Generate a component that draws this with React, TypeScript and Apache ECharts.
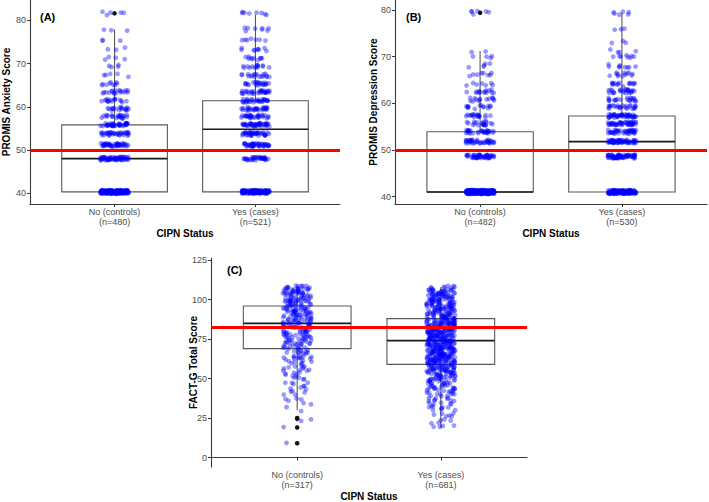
import React, { useEffect, useRef } from "react";
import * as echarts from "echarts";

// ---------- data ----------
const groupNames = ["No (controls)", "Yes (cases)"];
const anxietyN = [480, 521];
const depressionN = [482, 530];
const factN = [317, 681];

// PROMIS Anxiety: discrete T-score levels and counts per group (read from the jitter clouds)
const anxietyLevels = [40.3, 48.0, 51.2, 53.7, 55.8, 57.7, 59.5, 61.4, 63.4, 65.3, 67.3, 69.3, 71.2, 73.3, 75.4, 77.9, 81.6];
const anxietyNoCounts = [190, 60, 45, 35, 40, 22, 18, 16, 18, 9, 5, 4, 4, 3, 3, 3, 5];
const anxietyYesCounts = [140, 35, 45, 40, 45, 30, 30, 30, 30, 22, 18, 14, 10, 9, 7, 8, 8];
// [low whisker, Q1, median, Q3, high whisker]
const anxietyNoBox = [40.3, 40.3, 48.0, 55.8, 77.9];
const anxietyYesBox = [40.3, 40.3, 54.8, 61.4, 81.3];
const anxietyNoOutliers = [81.6];
const anxietyYesOutliers: number[] = [];
const anxietyTicks = [40, 50, 60, 70, 80];
const anxietyRef = 50;

// PROMIS Depression
const depressionLevels = [41.0, 48.6, 51.8, 53.9, 55.7, 57.3, 59.2, 60.8, 62.6, 64.0, 66.2, 68.1, 70.0, 71.2, 73.3, 75.7, 79.4];
const depressionNoCounts = [250, 50, 40, 30, 20, 18, 14, 14, 14, 7, 8, 5, 4, 2, 0, 0, 6];
const depressionYesCounts = [140, 70, 60, 40, 45, 45, 25, 20, 25, 15, 12, 9, 8, 4, 3, 3, 6];
const depressionNoBox = [41.0, 41.0, 41.0, 53.9, 71.2];
const depressionYesBox = [41.0, 41.0, 51.8, 57.3, 79.4];
const depressionNoOutliers = [79.4];
const depressionYesOutliers: number[] = [];
const depressionTicks = [40, 50, 60, 70, 80];
const depressionRef = 50;

// FACT-G Total
const factLevels = [9, 19, 20, 22, 24, 26, 28, 30, 32, 34, 36, 38, 40, 42, 44, 46, 48, 50, 52, 54, 56, 58, 60, 62, 64, 66, 68, 70, 72, 74, 76, 78, 80, 82, 84, 86, 88, 90, 92, 94, 96, 98, 100, 102, 104, 106, 108];
const factNoCounts = [1, 1, 0, 0, 2, 0, 0, 1, 1, 2, 2, 2, 2, 3, 3, 3, 3, 4, 4, 4, 5, 5, 6, 6, 7, 7, 6, 9, 9, 10, 10, 10, 11, 10, 10, 13, 14, 13, 13, 13, 13, 11, 13, 14, 15, 15, 11];
const factYesCounts = [0, 1, 3, 2, 3, 3, 3, 4, 5, 5, 5, 6, 7, 8, 9, 10, 11, 12, 14, 16, 18, 20, 22, 23, 24, 25, 25, 25, 25, 24, 25, 25, 25, 24, 24, 24, 17, 17, 17, 17, 17, 17, 17, 17, 17, 15, 8];
const factNoBox = [30, 69, 85, 96, 108];
const factYesBox = [19, 59, 74, 88, 108];
const factNoOutliers = [25, 24.5, 19, 9];
const factYesOutliers: number[] = [];
const factTicks = [0, 25, 50, 75, 100, 125];
const factRef = 82.5;

// ---------- helpers ----------
const FONT = '"Liberation Sans", Arial, Helvetica, sans-serif';

// deterministic scatter offset (stands in for ggplot's geom_jitter), in [0,1)
function hash01(k: number, s: number) {
  const x = Math.sin(k * 127.1 + s * 311.7) * 43758.5453;
  return x - Math.floor(x);
}

// expand a frequency table into jittered points (geom_jitter, width 0.1)
function jittered(levels: number[], counts: number[], center: number, yJit: number, seed: number) {
  const pts: number[][] = [];
  let k = 0;
  levels.forEach((lv, i) => {
    for (let j = 0; j < counts[i]; j++) {
      k++;
      const u = hash01(k, seed);
      const v = hash01(k + 7919, seed + 3.3);
      pts.push([center + (u * 2 - 1) * 0.1, lv + (v * 2 - 1) * yJit]);
    }
  });
  return pts;
}

function boxRender(params: any, api: any) {
  const x = api.value(0);
  const lo = api.coord([x, api.value(1)]);
  const q1 = api.coord([x, api.value(2)]);
  const md = api.coord([x, api.value(3)]);
  const q3 = api.coord([x, api.value(4)]);
  const hi = api.coord([x, api.value(5)]);
  const hw = api.size([0.75, 0])[0] / 2;
  const cx = q1[0];
  const stroke = "#5a5a5a";
  return {
    type: "group",
    children: [
      { type: "line", shape: { x1: cx, y1: hi[1], x2: cx, y2: q3[1] }, style: { stroke, lineWidth: 1.1 } },
      { type: "line", shape: { x1: cx, y1: q1[1], x2: cx, y2: lo[1] }, style: { stroke, lineWidth: 1.1 } },
      { type: "rect", shape: { x: cx - hw, y: q3[1], width: hw * 2, height: q1[1] - q3[1] }, style: { fill: "#ffffff", stroke, lineWidth: 1.1 } },
      { type: "line", shape: { x1: cx - hw, y1: md[1], x2: cx + hw, y2: md[1] }, style: { stroke: "#1a1a1a", lineWidth: 1.7 } },
    ],
  };
}

type Panel = {
  grid: any;
  xMin: number;
  xMax: number;
  yMin: number;
  yMax: number;
  ticks: number[];
  yName: string;
  yNameGap: number;
  n: number[];
  boxes: number[][];
  points: number[][];
  outliers: number[][];
  ref: number;
};

export default function App() {
  const ref = useRef<HTMLDivElement>(null);

  useEffect(() => {
    if (!ref.current) return;
    const chart = echarts.init(ref.current, undefined, { renderer: "svg" });

    const panels: Panel[] = [
      {
        grid: { left: 29, top: 0, width: 311, height: 204 },
        xMin: 0.4, xMax: 2.6, yMin: 37.5, yMax: 84.7, ticks: anxietyTicks,
        yName: "PROMIS Anxiety Score", yNameGap: 19, n: anxietyN,
        boxes: [[1, ...anxietyNoBox], [2, ...anxietyYesBox]],
        points: [...jittered(anxietyLevels, anxietyNoCounts, 1, 0.4, 0.11), ...jittered(anxietyLevels, anxietyYesCounts, 2, 0.4, 0.53)],
        outliers: [...anxietyNoOutliers.map((v) => [1, v]), ...anxietyYesOutliers.map((v) => [2, v])],
        ref: anxietyRef,
      },
      {
        grid: { left: 395, top: 0, width: 312, height: 204 },
        xMin: 0.4, xMax: 2.6, yMin: 38.43, yMax: 82.14, ticks: depressionTicks,
        yName: "PROMIS Depression Score", yNameGap: 17, n: depressionN,
        boxes: [[1, ...depressionNoBox], [2, ...depressionYesBox]],
        points: [...jittered(depressionLevels, depressionNoCounts, 1, 0.4, 0.27), ...jittered(depressionLevels, depressionYesCounts, 2, 0.4, 0.71)],
        outliers: [...depressionNoOutliers.map((v) => [1, v]), ...depressionYesOutliers.map((v) => [2, v])],
        ref: depressionRef,
      },
      {
        grid: { left: 211, top: 258, width: 316, height: 209 },
        xMin: 0.4, xMax: 2.6, yMin: -6, yMax: 126.4, ticks: factTicks,
        yName: "FACT-G Total Score", yNameGap: 13, n: factN,
        boxes: [[1, ...factNoBox], [2, ...factYesBox]],
        points: [...jittered(factLevels, factNoCounts, 1, 1.0, 0.19), ...jittered(factLevels, factYesCounts, 2, 1.0, 0.83)],
        outliers: [...factNoOutliers.map((v) => [1, v]), ...factYesOutliers.map((v) => [2, v])],
        ref: factRef,
      },
    ];

    const axisLine = { show: true, lineStyle: { color: "#3a3a3a", width: 1.1 } };
    const axisTick = { show: true, length: 3, lineStyle: { color: "#3a3a3a", width: 1 } };

    const option: any = {
      animation: false,
      backgroundColor: "#ffffff",
      textStyle: { fontFamily: FONT },
      title: [
        { text: "(A)", left: 40, top: 11, padding: 0, textStyle: { fontSize: 11, fontWeight: "bold", color: "#000", fontFamily: FONT } },
        { text: "(B)", left: 406, top: 11, padding: 0, textStyle: { fontSize: 11, fontWeight: "bold", color: "#000", fontFamily: FONT } },
        { text: "(C)", left: 227, top: 264, padding: 0, textStyle: { fontSize: 11, fontWeight: "bold", color: "#000", fontFamily: FONT } },
      ],
      grid: panels.map((p) => ({ ...p.grid, containLabel: false })),
      xAxis: panels.map((p, i) => ({
        type: "value",
        gridIndex: i,
        min: p.xMin,
        max: p.xMax,
        name: "CIPN Status",
        nameLocation: "middle",
        nameGap: 24,
        nameMoveOverlap: false,
        nameTextStyle: { fontSize: 10, fontWeight: "bold", color: "#000", fontFamily: FONT },
        axisLine,
        axisTick: { ...axisTick, customValues: [1, 2] },
        splitLine: { show: false },
        axisLabel: {
          customValues: [1, 2],
          margin: 3,
          fontSize: 9,
          lineHeight: 10,
          color: "#4d4d4d",
          fontFamily: FONT,
          formatter: (v: number) => {
            const k = Math.round(v) - 1;
            return `${groupNames[k]}\n(n=${p.n[k]})`;
          },
        },
      })),
      yAxis: panels.map((p, i) => ({
        type: "value",
        gridIndex: i,
        min: p.yMin,
        max: p.yMax,
        name: p.yName,
        nameLocation: "middle",
        nameGap: p.yNameGap,
        nameMoveOverlap: false,
        nameTextStyle: { fontSize: 10, fontWeight: "bold", color: "#000", fontFamily: FONT },
        axisLine,
        axisTick: { ...axisTick, customValues: p.ticks },
        splitLine: { show: false },
        axisLabel: { customValues: p.ticks, margin: 4, fontSize: 9, color: "#4d4d4d", fontFamily: FONT },
      })),
      series: panels.flatMap((p, i) => [
        {
          type: "custom",
          xAxisIndex: i,
          yAxisIndex: i,
          renderItem: boxRender,
          encode: { x: 0, y: [1, 2, 3, 4, 5] },
          data: p.boxes,
          z: 1,
          silent: true,
        },
        {
          type: "scatter",
          xAxisIndex: i,
          yAxisIndex: i,
          data: p.outliers,
          symbol: "circle",
          symbolSize: 4.5,
          itemStyle: { color: "#111111", opacity: 1 },
          z: 2,
          silent: true,
        },
        {
          type: "scatter",
          xAxisIndex: i,
          yAxisIndex: i,
          data: p.points,
          symbol: "circle",
          symbolSize: 4.8,
          progressive: 0,
          itemStyle: { color: "rgba(0,0,255,0.5)", borderWidth: 0 },
          z: 3,
          silent: true,
          markLine: {
            silent: true,
            symbol: ["none", "none"],
            label: { show: false },
            lineStyle: { color: "#ff0000", width: 2.8, type: "solid" },
            data: [{ yAxis: p.ref }],
            z: 10,
          },
        },
      ]),
    };

    chart.setOption(option);
    return () => chart.dispose();
  }, []);

  return (
    <div
      ref={ref}
      style={{ position: "fixed", left: 0, top: 0, width: 709, height: 502, background: "#fff" }}
    />
  );
}
